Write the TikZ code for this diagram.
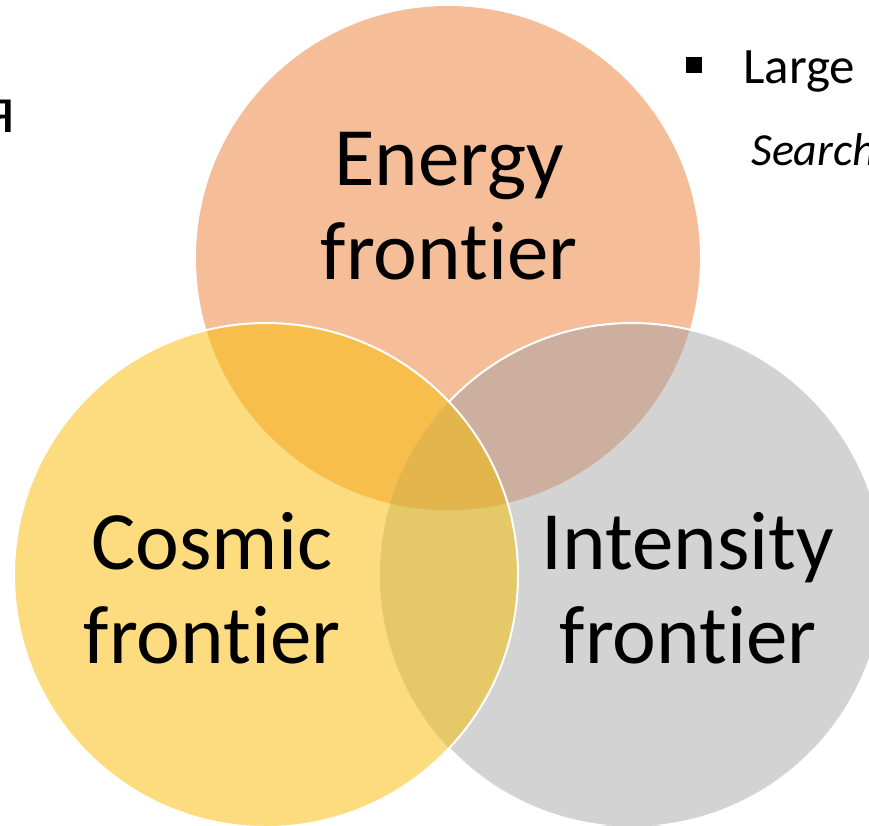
\documentclass[tikz,border=0pt]{standalone}
\usepackage{fontspec}
\setmainfont{Carlito}[Ligatures=NoCommon]
\definecolor{energyfill}{HTML}{F5BE99}
\definecolor{cosmicfill}{HTML}{FDDC80}
\definecolor{intensfill}{HTML}{D3D3D3}
\definecolor{encofill}{HTML}{F8BE4B}
\definecolor{eninfill}{HTML}{CCAF9F}
\definecolor{coinfill}{HTML}{E5C868}
\definecolor{allfill}{HTML}{E2B64C}
\begin{document}
\begin{tikzpicture}[x=1pt,y=-1pt,
  big/.style={font=\fontsize{83}{94}\selectfont,align=center,inner sep=0pt},
  side/.style={anchor=base west,inner sep=0pt},
  rim/.style={white,line width=2pt}]
\useasboundingbox (0,0) rectangle (869,825);
\def\rad{252pt}
\coordinate (E) at (448,258);
\coordinate (C) at (266,575);
\coordinate (I) at (632,575);
\foreach \c/\col in {E/energyfill,C/cosmicfill,I/intensfill}
  \fill[\col] (\c) circle (\rad);
% overlaps
\begin{scope}
  \clip (C) circle (\rad);
  \fill[coinfill] (I) circle (\rad);
\end{scope}
\begin{scope}
  \clip (E) circle (\rad);
  \fill[encofill] (C) circle (\rad);
  \fill[eninfill] (I) circle (\rad);
  \clip (C) circle (\rad);
  \fill[allfill] (I) circle (\rad);
\end{scope}
\begin{scope}[even odd rule]
  \clip (0,0) rectangle (869,825) (C) circle (\rad);
  \draw[rim] (I) circle (\rad);
\end{scope}
\draw[rim] (C) circle (\rad);
\node[big] (energy) at (449,206) {Energy\\frontier};
\node[big] (cosmic) at (212,588) {Cosmic\\frontier};
\node[big] (intens) at (688,588) {Intensity\\frontier};
% side text
\node[fill=black,minimum size=16pt,inner sep=0pt] (bullet) at (693.5,65) {};
\node[side,font=\fontsize{51}{60}\selectfont] (large) at (743,83) {Large};
\node[side,font=\fontsize{46}{55}\selectfont\itshape] (search) at (751,165) {Search};
\node[anchor=base east,inner sep=0pt,font=\fontsize{68}{80}\selectfont] (ya) at (16,132) {я};
\end{tikzpicture}
\end{document}
